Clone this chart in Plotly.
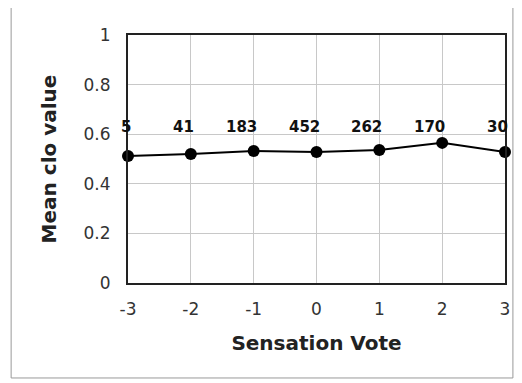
import plotly.graph_objects as go

# Sensation vote categories, mean clo and number of votes
votes = [-3, -2, -1, 0, 1, 2, 3]
vote_labels = ["-3", "-2", "-1", "0", "1", "2", "3"]
mean_clo = [0.512, 0.520, 0.532, 0.528, 0.536, 0.565, 0.528]
counts = ["5", "41", "183", "452", "262", "170", "30"]

fig = go.Figure()
fig.add_trace(go.Scatter(
    x=votes, y=mean_clo, mode="lines+markers",
    line=dict(color="black", width=2),
    marker=dict(color="black", size=12),
    cliponaxis=False, showlegend=False,
))

# vote counts written in a row sitting on the 0.6 gridline
for v, c in zip(votes, counts):
    fig.add_annotation(x=v, y=0.6, text="<b>%s</b>" % c, showarrow=False,
                       xanchor="right", yanchor="bottom", xshift=5, yshift=-4,
                       font=dict(size=15, color="#111"))

fig.update_xaxes(range=[-3, 3], tickvals=votes, ticktext=vote_labels,
                 showgrid=True, gridcolor="#c8c8c8",
                 zeroline=False, showline=True, linecolor="#222", linewidth=2, mirror=True,
                 ticks="", ticklabelstandoff=10,
                 tickfont=dict(size=17, color="#333"),
                 title=dict(text="<b>Sensation Vote</b>", font=dict(size=20, color="#222"), standoff=18))
fig.update_yaxes(range=[0, 1], dtick=0.2, showgrid=True, gridcolor="#c8c8c8",
                 zeroline=False, showline=True, linecolor="#222", linewidth=2, mirror=True,
                 ticks="", ticklabelstandoff=12,
                 tickfont=dict(size=17, color="#333"),
                 title=dict(text="<b>Mean clo value</b>", font=dict(size=20, color="#222"), standoff=22))

# outer frame of the chart area
fig.add_shape(type="rect", xref="paper", yref="paper", x0=-0.31, x1=1.021, y0=-0.383, y1=1.117,
              line=dict(color="#999", width=1))

fig.update_layout(
    width=514, height=375,
    margin=dict(l=120, r=13, t=27, b=100),
    paper_bgcolor="white", plot_bgcolor="white",
    font=dict(family="DejaVu Sans, Arial, sans-serif"),
)

fig.write_html("out.html")
